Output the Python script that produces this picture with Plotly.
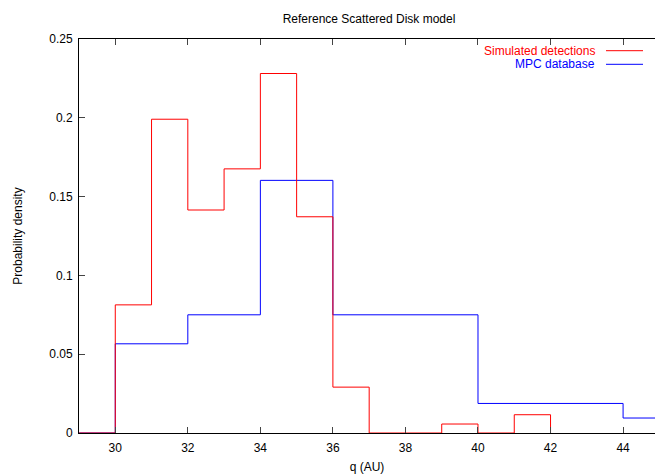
import plotly.graph_objects as go

# Data
red_edges = [29, 30, 31, 32, 33, 34, 35, 36, 37, 38, 39, 40, 41, 42]
red_vals = [0, 0.0813, 0.1991, 0.1415, 0.1676, 0.2281, 0.1372, 0.0291, 0, 0, 0.0057, 0, 0.0116, 0]
blue_edges = [29, 30, 32, 34, 36, 40, 44, 45]
blue_vals = [0, 0.0566, 0.0750, 0.1603, 0.0750, 0.01875, 0.0095, 0.0095]
x_ticks = [30, 32, 34, 36, 38, 40, 42, 44]
y_ticks = [0, 0.05, 0.1, 0.15, 0.2, 0.25]
y_ticktext = ["0", "0.05", "0.1", "0.15", "0.2", "0.25"]
series_names = ["Simulated detections", "MPC database"]
colors = ["#ff0000", "#0000ff"]

FONT = "Liberation Sans, Arial, sans-serif"

fig = go.Figure()
fig.add_trace(go.Scatter(x=blue_edges, y=blue_vals, mode="lines", line_shape="hv",
                         line=dict(color=colors[1], width=1), name=series_names[1], showlegend=False))
fig.add_trace(go.Scatter(x=red_edges, y=red_vals, mode="lines", line_shape="hv",
                         line=dict(color=colors[0], width=1), name=series_names[0], showlegend=False))

W, H = 655, 474
ml, mr, mt, mb = 79, 0, 39, 41
pw, ph = W - ml - mr, H - mt - mb

# gnuplot-style key: text right-aligned, sample line on the right
key_y = [50.7, 64.3]
anns = []
for name, col, yy in zip(series_names, colors, key_y):
    anns.append(dict(x=(597 - ml) / pw, y=(H - mb - yy) / ph, xref="paper", yref="paper",
                     text=name, showarrow=False, xanchor="right", yanchor="middle",
                     font=dict(family=FONT, size=12, color=col)))
shapes = []
for col, yy in zip(colors, key_y):
    shapes.append(dict(type="line", xref="paper", yref="paper",
                       x0=(606 - ml) / pw, x1=(643 - ml) / pw,
                       y0=(H - mb - yy) / ph, y1=(H - mb - yy) / ph,
                       line=dict(color=col, width=1)))

fig.update_layout(
    width=W, height=H,
    margin=dict(l=ml, r=mr, t=mt, b=mb),
    plot_bgcolor="white", paper_bgcolor="white",
    font=dict(family=FONT, size=12, color="black"),
    title=dict(text="Reference Scattered Disk model", x=(369 - ml) / pw, xref="paper", xanchor="center",
               y=1 - 19 / H, yref="container", yanchor="middle",
               font=dict(family=FONT, size=12, color="black")),
    annotations=anns,
    shapes=shapes,
    showlegend=False,
)
fig.update_xaxes(range=[29, 44.88], tickvals=x_ticks, ticks="inside", ticklen=6,
                 showline=True, linecolor="black", linewidth=1, mirror="ticks",
                 showgrid=False, zeroline=False, automargin=False, ticklabelstandoff=4,
                 title=dict(text="q (AU)", standoff=8, font=dict(family=FONT, size=12)),
                 tickfont=dict(family=FONT, size=12))
fig.update_yaxes(range=[0, 0.25], tickvals=y_ticks, ticktext=y_ticktext, ticks="inside", ticklen=6,
                 showline=True, linecolor="black", linewidth=1, mirror=False,
                 showgrid=False, zeroline=False, automargin=False, ticklabelstandoff=3,
                 title=dict(text="Probability density", standoff=24, font=dict(family=FONT, size=12)),
                 tickfont=dict(family=FONT, size=12))

fig.write_html("out.html")
